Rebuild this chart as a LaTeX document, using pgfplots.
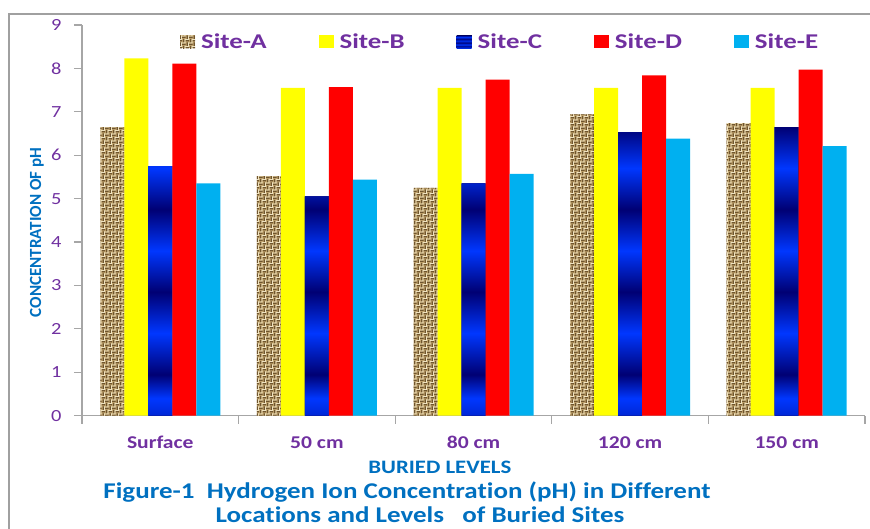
\documentclass[border=0pt]{standalone}
\usepackage{pgfplots}
\pgfplotsset{compat=1.18}
\usepackage{fontspec}
\usetikzlibrary{patterns}

\newfontfamily\calwide[FakeStretch=1.2, Ligatures=NoCommon]{Carlito}
\newfontfamily\calwider[FakeStretch=1.28, Ligatures=NoCommon]{Carlito}
\newfontfamily\calnarrow[Ligatures=NoCommon]{Carlito}

\definecolor{tickpurple}{HTML}{7030A0}
\definecolor{capblue}{HTML}{0070C0}
\definecolor{axisgrey}{HTML}{A6A6A6}
\definecolor{framegrey}{HTML}{A0A0A0}
\definecolor{siteB}{HTML}{FFFF00}
\definecolor{siteD}{HTML}{FF0000}
\definecolor{siteE}{HTML}{00B0F0}
\definecolor{burlapbase}{HTML}{C1A46E}
\definecolor{burlapdark}{HTML}{6F552E}
\definecolor{burlaplight}{HTML}{F0E3C0}
\definecolor{navyband}{RGB}{0,0,115}
\definecolor{brightband}{RGB}{0,55,255}

% basket-weave texture for Site-A
\pgfdeclarepatternformonly{weavedark}{\pgfqpoint{-0.1pt}{-0.1pt}}{\pgfqpoint{7.1pt}{7.1pt}}{\pgfqpoint{7pt}{7pt}}{%
  \pgfpathrectangle{\pgfqpoint{0pt}{1.2pt}}{\pgfqpoint{3.5pt}{1.1pt}}%
  \pgfpathrectangle{\pgfqpoint{3.5pt}{4.7pt}}{\pgfqpoint{3.5pt}{1.1pt}}%
  \pgfpathrectangle{\pgfqpoint{4.7pt}{0pt}}{\pgfqpoint{1.1pt}{3.5pt}}%
  \pgfpathrectangle{\pgfqpoint{1.2pt}{3.5pt}}{\pgfqpoint{1.1pt}{3.5pt}}%
  \pgfusepath{fill}}
\pgfdeclarepatternformonly{weavelight}{\pgfqpoint{-0.1pt}{-0.1pt}}{\pgfqpoint{7.1pt}{7.1pt}}{\pgfqpoint{7pt}{7pt}}{%
  \pgfpathrectangle{\pgfqpoint{0pt}{2.5pt}}{\pgfqpoint{3.5pt}{0.9pt}}%
  \pgfpathrectangle{\pgfqpoint{3.5pt}{6pt}}{\pgfqpoint{3.5pt}{0.9pt}}%
  \pgfpathrectangle{\pgfqpoint{6pt}{0pt}}{\pgfqpoint{0.9pt}{3.5pt}}%
  \pgfpathrectangle{\pgfqpoint{2.5pt}{3.5pt}}{\pgfqpoint{0.9pt}{3.5pt}}%
  \pgfusepath{fill}}

% repeating dark/bright blue bands for Site-C
\pgfdeclareverticalshading{sitecbands}{100bp}{%
  color(0bp)=(brightband!70!navyband); color(25bp)=(brightband!70!navyband);
  color(28bp)=(brightband);
  color(32.14bp)=(navyband); color(39.29bp)=(brightband);
  color(46.43bp)=(navyband); color(53.57bp)=(brightband);
  color(60.71bp)=(navyband); color(67.86bp)=(brightband);
  color(75bp)=(navyband); color(100bp)=(navyband)}

\tikzset{
  burlap/.style={fill=burlapbase,
    postaction={pattern=weavedark, pattern color=burlapdark},
    postaction={pattern=weavelight, pattern color=burlaplight}},
  bluebands/.style={fill=navyband, postaction={shade, shading=sitecbands}},
}

\pgfplotstableread{
idx A    B    C    D    E
0   6.65 8.23 5.75 8.11 5.35
1   5.52 7.55 5.05 7.57 5.44
2   5.25 7.55 5.35 7.74 5.57
3   6.94 7.55 6.53 7.84 6.38
4   6.74 7.55 6.65 7.97 6.21
}\phdata

\begin{document}
\begin{tikzpicture}[x=1pt,y=1pt]
\useasboundingbox (0,0) rectangle (870,529);
% outer chart frame
\draw[framegrey, line width=2pt] (9,-20) -- (9,515) -- (900,515);

\begin{axis}[
  at={(82pt,113.3pt)}, anchor=south west,
  scale only axis, width=783pt, height=390.7pt,
  ybar=0pt, bar width=24pt,
  xmin=-0.5, xmax=4.5, ymin=0, ymax=9,
  enlargelimits=false,
  axis lines*=left,
  axis line style={axisgrey, line width=1.5pt},
  every tick/.style={axisgrey, line width=1.2pt},
  tick align=outside,
  major tick length=8pt,
  ytick={0,...,9},
  xtick={-0.5,0.5,...,4.5},
  xticklabels={},
  extra x ticks={0,1,2,3,4},
  extra x tick labels={Surface,50 cm,80 cm,120 cm,150 cm},
  extra x tick style={major tick length=0pt,
    xticklabel style={font=\calwide\bfseries\fontsize{18}{18}\selectfont, text=tickpurple, anchor=base, yshift=-33pt}},
  /pgf/number format/assume math mode=true,
  yticklabel style={font=\calwide\fontsize{17}{17}\selectfont, text=tickpurple, xshift=-9pt},
  ylabel={CONCENTRATION OF pH},
  ylabel style={at={(axis description cs:-0.0575,0.469)}, anchor=center, rotate=0,
    font=\calnarrow\bfseries\fontsize{17}{17}\selectfont, text=capblue},
  xlabel={BURIED LEVELS},
  xlabel style={at={(axis description cs:0.457,-0.131)}, anchor=center,
    font=\calwide\bfseries\fontsize{19}{19}\selectfont, text=capblue},
  legend columns=5,
  legend style={at={(axis description cs:0.125,0.957)}, anchor=west,
    draw=none, fill=none, inner sep=0pt,
    font=\calwider\bfseries\fontsize{21}{21}\selectfont, text=tickpurple,
    /tikz/every even column/.append style={column sep=50pt},
    /tikz/every odd column/.append style={column sep=4pt}},
  legend image code/.code={\path[#1] (0pt,-6.5pt) rectangle (15pt,6.5pt);},
]
\addplot[burlap, draw=none] table[x=idx, y=A] {\phdata};
\addlegendentry{Site-A}
\addplot[fill=siteB, draw=none] table[x=idx, y=B] {\phdata};
\addlegendentry{Site-B}
\addplot[bluebands, draw=none] table[x=idx, y=C] {\phdata};
\addlegendentry{Site-C}
\addplot[fill=siteD, draw=none] table[x=idx, y=D] {\phdata};
\addlegendentry{Site-D}
\addplot[fill=siteE, draw=none] table[x=idx, y=E] {\phdata};
\addlegendentry{Site-E}
\end{axis}

% two-line figure caption below the chart
\node[anchor=base, inner sep=0pt, font=\calwide\bfseries\fontsize{22.5}{22.5}\selectfont, text=capblue] at (407,30.5) {Figure-1\ \ Hydrogen Ion Concentration (pH) in Different};
\node[anchor=base, inner sep=0pt, font=\calwide\bfseries\fontsize{22.5}{22.5}\selectfont, text=capblue] at (420,6.5) {Locations and Levels\ \ \ of Buried Sites};
\end{tikzpicture}
\end{document}
